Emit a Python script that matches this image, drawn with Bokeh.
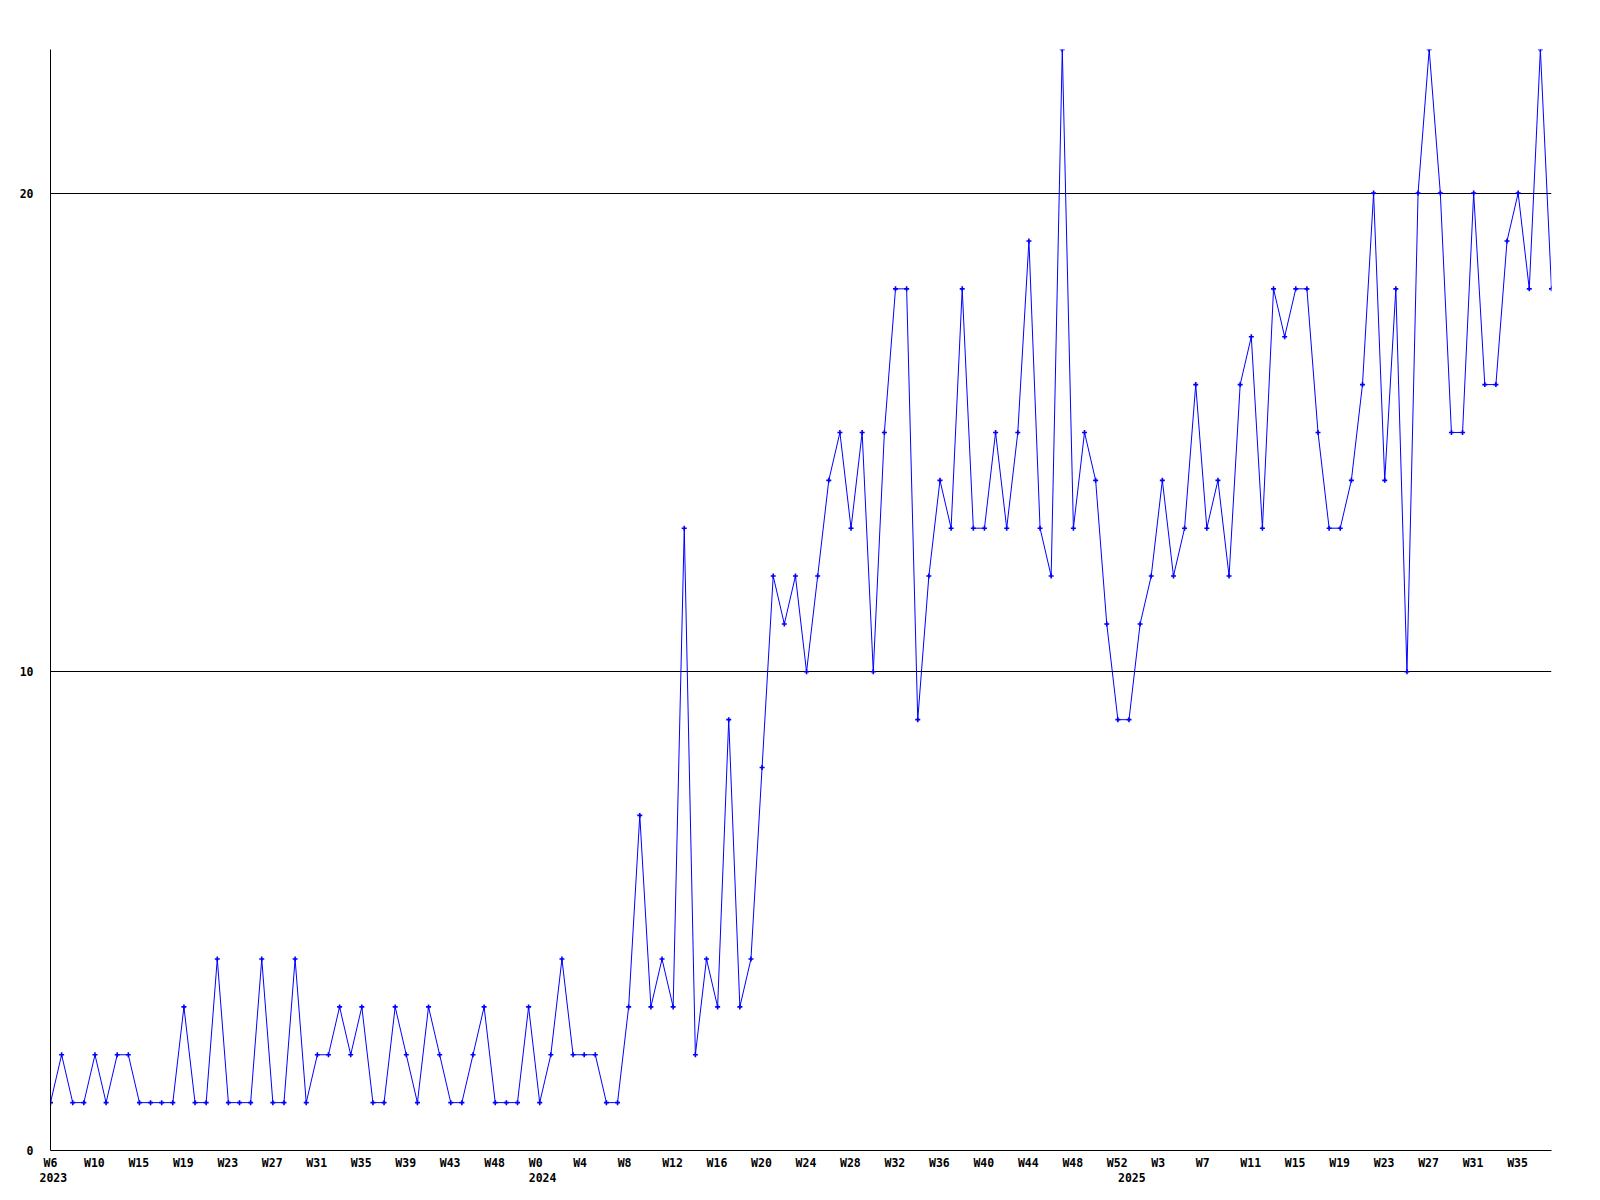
from bokeh.plotting import figure
from bokeh.models import Range1d, FixedTicker, LinearAxis
from bokeh.embed import file_html
from bokeh.resources import INLINE

# weekly values, one per point (2023 W6 ... 2025)
values = [1, 2, 1, 1, 2, 1, 2, 2, 1, 1, 1, 1, 3, 1, 1, 4, 1, 1, 1, 4,
          1, 1, 4, 1, 2, 2, 3, 2, 3, 1, 1, 3, 2, 1, 3, 2, 1, 1, 2, 3,
          1, 1, 1, 3, 1, 2, 4, 2, 2, 2, 1, 1, 3, 7, 3, 4, 3, 13, 2, 4,
          3, 9, 3, 4, 8, 12, 11, 12, 10, 12, 14, 15, 13, 15, 10, 15, 18, 18, 9, 12,
          14, 13, 18, 13, 13, 15, 13, 15, 19, 13, 12, 23, 13, 15, 14, 11, 9, 9, 11, 12,
          14, 12, 13, 16, 13, 14, 12, 16, 17, 13, 18, 17, 18, 18, 15, 13, 13, 14, 16, 20,
          14, 18, 10, 20, 23, 20, 15, 15, 20, 16, 16, 19, 20, 18, 23, 18]

# tick labels, one for every 4th point
week_labels = ["W6", "W10", "W15", "W19", "W23", "W27", "W31", "W35", "W39", "W43", "W48",
               "W0", "W4", "W8", "W12", "W16", "W20", "W24", "W28", "W32", "W36", "W40",
               "W44", "W48", "W52", "W3", "W7", "W11", "W15", "W19", "W23", "W27", "W31", "W35"]
label_every = 4

year_labels = ["2023", "2024", "2025"]
year_first_point = [0, 44, 97]

y_ticks = [0, 10, 20]
grid_values = [10, 20]

n = len(values)
xs = list(range(n))

FONT = "DejaVu Sans Mono"
FS = "11.5px"
W, H = 1588, 1192
ML, MR, MT, MB = 50, 37, 49, 42
frame_w = W - ML - MR
px_per_unit = frame_w / (n - 1)
CHAR_W = 6.92


def centred(idx, label):
    # reference labels start 11px left of their point; bokeh centres tick labels
    off_px = -11 + len(label) * CHAR_W / 2.0
    return round(max(idx + off_px / px_per_unit, 0.0), 5)


p = figure(width=W, height=H, output_backend="svg", toolbar_location=None,
           x_range=Range1d(0, n - 1), y_range=Range1d(0, max(values)),
           min_border_left=ML, min_border_right=MR, min_border_top=MT, min_border_bottom=MB)
p.outline_line_color = None
p.background_fill_color = "white"
p.border_fill_color = "white"

p.line(xs, values, line_color="#0000ff", line_width=1)
p.scatter(xs, values, marker="cross", size=5, line_color="#0000ff", line_width=1.6)


def style_axis(ax, standoff):
    ax.major_tick_line_color = None
    ax.minor_tick_line_color = None
    ax.major_tick_out = 0
    ax.major_tick_in = 0
    ax.major_label_standoff = standoff
    ax.major_label_text_font = FONT
    ax.major_label_text_font_style = "bold"
    ax.major_label_text_font_size = FS
    ax.major_label_text_color = "black"


# week labels (bottom axis with its line)
wk_ticks = [centred(i * label_every, lbl) for i, lbl in enumerate(week_labels)]
xa = p.xaxis[0]
xa.ticker = FixedTicker(ticks=wk_ticks)
xa.major_label_overrides = {t: lbl for t, lbl in zip(wk_ticks, week_labels)}
style_axis(xa, 5)
xa.axis_line_color = "black"

# second row: years
yr_ticks = [centred(i, lbl) for i, lbl in zip(year_first_point, year_labels)]
yr_axis = LinearAxis(ticker=FixedTicker(ticks=yr_ticks),
                     major_label_overrides={t: lbl for t, lbl in zip(yr_ticks, year_labels)})
style_axis(yr_axis, 0)
yr_axis.axis_line_color = None
p.add_layout(yr_axis, "below")

# y axis
ya = p.yaxis[0]
ya.ticker = FixedTicker(ticks=y_ticks)
style_axis(ya, 17)
ya.axis_line_color = "black"

p.xgrid.visible = False
p.ygrid.ticker = FixedTicker(ticks=grid_values)
p.ygrid.grid_line_color = "black"
p.ygrid.grid_line_alpha = 1.0
p.ygrid.grid_line_width = 1

open("out.html", "w").write(file_html(p, INLINE))
